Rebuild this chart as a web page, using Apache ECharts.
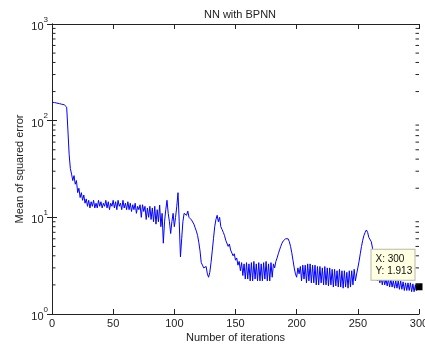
<!DOCTYPE html>
<html><head><meta charset="utf-8">
<script src="https://cdn.jsdelivr.net/npm/echarts@6/dist/echarts.min.js"></script>
<style>html,body{margin:0;padding:0;background:#fff}#c{width:425px;height:347px}</style>
</head><body><div id="c"></div>
<script>
var titleText = 'NN with BPNN';
var xName = 'Number of iterations';
var yName = 'Mean of squared error';
var xTicks = [0, 50, 100, 150, 200, 250, 300];
var yTicks = [1, 10, 100, 1000];
// mean squared error per iteration, iterations 0..300
var mse = [
155,154,154,153,152,151,150,149,148,147,146,
143,138,80,45,32,28,24,27,22,24,
18,20,16,18,15,17,14,15.5,13,15,
12.5,14.5,13,15,12.5,14,12.5,15,13,14.5,
12.5,14,13,15,12.5,14.5,12,14,13,15,
12.5,14.5,12,15,13,14,12,15,12.5,14,
12,14.5,12,14,11.5,13.5,12,14,11,13,
12,13.5,10,13.5,11.5,13,9.5,12.5,10,13,
9.5,12.5,9,13,8.5,12,9,13.4,8,11,
5.4,9,12,15,11,9,6.8,9,11,8,
10,13,18,9,3.9,6,9,11,10.5,10.5,
11.6,10,9.6,9.4,9,8.5,7.8,7.2,6.5,5.5,
4.5,3.4,3.2,3.0,3.0,3.1,2.6,2.4,2.7,3.4,
4.5,6,8,9.5,10.5,9,10,8,7.5,7,
6.5,5.8,6,5,5.3,4.6,4.8,4,4.2,3.6,
3.8,3.2,3.5,2.8,3.4,2.5,3.3,2.3,3.4,2.3,
3.3,2.2,3.4,2.2,3.5,2.3,3.3,2.2,3.4,2.2,
3.3,2.2,3.4,2.3,3.5,2.2,3.3,2.2,3.4,2.4,
3.3,3.0,3.5,3.8,4.2,4.6,5.0,5.4,5.7,5.9,
6.0,6.1,6.0,5.6,5.0,4.3,3.6,3.0,2.6,2.4,
3.0,2.6,3.1,2.2,3.2,2.3,3.2,2.1,3.3,2.2,
3.3,2.1,3.2,2.1,3.2,2.0,3.1,2.0,3.1,2.1,
3.0,2.0,3.1,2.0,3.0,1.95,3.0,2.0,2.9,1.9,
2.9,1.95,2.8,1.9,2.9,1.9,2.8,1.85,2.8,1.9,
2.7,1.85,2.8,1.9,2.8,2.0,2.9,2.2,2.6,3.0,
3.5,4.2,5.0,5.8,6.5,7.0,7.4,7.0,6.2,6.0,
5.6,4.8,4.0,3.3,2.7,2.2,2.5,2.1,2.4,2.0,
2.4,2.0,2.3,1.95,2.3,1.9,2.3,1.9,2.2,1.85,
2.2,1.85,2.2,1.8,2.2,1.8,2.15,1.75,2.1,1.75,
2.1,1.75,2.1,1.7,2.05,1.7,2.0,1.75,2.0,1.913
];
var tipX = 300;
var tipY = 1.913;

var pts = mse.map(function (v, i) { return [i, v]; });
var minorVals = [];
[1, 10, 100].forEach(function (d) { for (var k = 2; k <= 9; k++) minorVals.push([0, k * d]); });

var ink = '#222';
var font = 'Liberation Sans, Arial, sans-serif';
var ylab = function (v) { var e = Math.round(Math.log10(v)); return '{b|10}{s|' + e + '}'; };
var rich = { b: { fontSize: 11, color: ink, fontFamily: font, verticalAlign: 'bottom', lineHeight: 17 },
             s: { fontSize: 8, color: ink, fontFamily: font, verticalAlign: 'top', lineHeight: 17 } };

var chart = echarts.init(document.getElementById('c'), null, { renderer: 'canvas' });
chart.setOption({
  animation: false,
  title: { text: titleText, left: 235, top: 4, textAlign: 'center',
    textStyle: { fontSize: 11, fontWeight: 'normal', color: ink, fontFamily: font } },
  grid: { left: 52, right: 6, top: 24, bottom: 33, containLabel: false, outerBoundsMode: 'none' },
  xAxis: [
    { type: 'value', min: 0, max: 300, interval: 50, position: 'bottom',
      name: xName, nameLocation: 'middle', nameGap: 18, nameMoveOverlap: false,
      nameTextStyle: { fontSize: 11, color: ink, fontFamily: font },
      axisLine: { lineStyle: { color: ink, width: 1 } },
      axisTick: { inside: true, length: 5, lineStyle: { color: ink } },
      axisLabel: { margin: 4, fontSize: 11, color: ink, fontFamily: font },
      splitLine: { show: false } },
    { type: 'value', min: 0, max: 300, interval: 50, position: 'top',
      axisLine: { lineStyle: { color: ink, width: 1 } },
      axisTick: { inside: true, length: 5, lineStyle: { color: ink } },
      axisLabel: { show: false }, splitLine: { show: false } }
  ],
  yAxis: [
    { type: 'log', logBase: 10, min: 1, max: 1000, position: 'left',
      name: yName, nameLocation: 'middle', nameGap: 27, nameRotate: 90, nameMoveOverlap: false,
      nameTextStyle: { fontSize: 11, color: ink, fontFamily: font },
      axisLine: { show: true, lineStyle: { color: ink, width: 1 } },
      axisTick: { inside: true, length: 5, lineStyle: { color: ink } },
      axisLabel: { margin: 4, formatter: ylab, rich: rich },
      splitLine: { show: false } },
    { type: 'log', logBase: 10, min: 1, max: 1000, position: 'right',
      axisLine: { show: true, lineStyle: { color: ink, width: 1 } },
      axisTick: { inside: true, length: 5, lineStyle: { color: ink } },
      axisLabel: { show: false }, splitLine: { show: false } }
  ],
  series: [
    { type: 'custom', xAxisIndex: 0, yAxisIndex: 0, silent: true, clip: false, z: 5,
      data: minorVals,
      renderItem: function (params, api) {
        var y = api.value(1);
        var l = api.coord([0, y]);
        var r = api.coord([300, y]);
        return { type: 'group', children: [
          { type: 'line', shape: { x1: l[0], y1: l[1], x2: l[0] + 3.5, y2: l[1] }, style: { stroke: ink, lineWidth: 1 } },
          { type: 'line', shape: { x1: r[0], y1: r[1], x2: r[0] - 3.5, y2: r[1] }, style: { stroke: ink, lineWidth: 1 } }
        ] };
      } },
    { type: 'line', xAxisIndex: 0, yAxisIndex: 0, data: pts, showSymbol: false,
      lineStyle: { color: '#0000ff', width: 1 }, itemStyle: { color: '#0000ff' },
      markPoint: {
        silent: true,
        data: [
          { coord: [tipX, tipY], symbol: 'rect', symbolSize: 7,
            itemStyle: { color: '#000' }, label: { show: false } },
          { coord: [tipX, tipY], symbol: 'rect', symbolSize: 0.01,
            itemStyle: { color: 'rgba(0,0,0,0)' },
            label: { show: true, position: 'inside', offset: [-26, -22],
              formatter: '{t|X: ' + tipX + '}\n{t|Y: ' + tipY + '}',
              rich: { t: { width: 36, align: 'left', fontSize: 10, lineHeight: 12, color: '#111', fontFamily: font } },
              backgroundColor: '#ffffe1', borderColor: '#b8b8a8', borderWidth: 1,
              padding: [3, 3, 3, 4] } }
        ]
      } }
  ]
});
</script></body></html>
